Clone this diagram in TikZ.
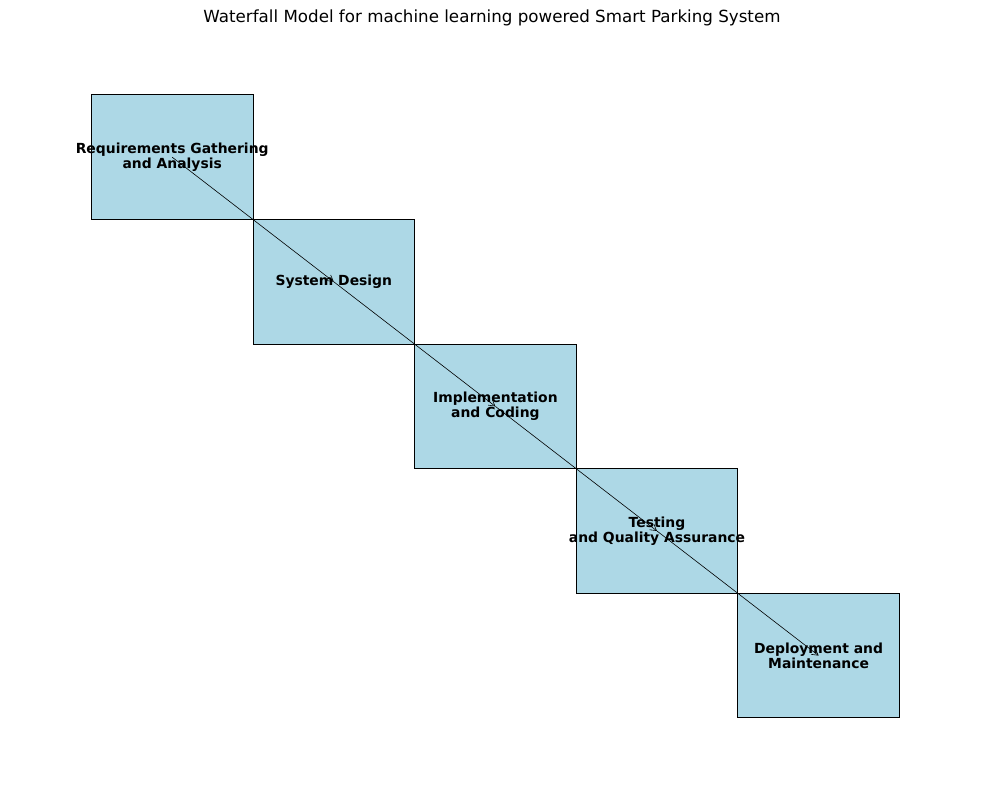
\documentclass[tikz,border=0pt]{standalone}
\usepackage{fontspec}
\setmainfont{DejaVu Sans}
\usetikzlibrary{arrows.meta,positioning}
\definecolor{stagecol}{RGB}{173,216,230}

\begin{document}
\begin{tikzpicture}[x=1pt,y=-1pt,
  stage/.style={draw=black,line width=1pt,fill=stagecol,minimum width=161.6pt,
    minimum height=124.6pt,inner xsep=-25pt,inner ysep=0pt,align=center,
    font=\fontsize{13.9}{15.5}\selectfont\bfseries},
  flow/.style={line width=0.6pt,-{Straight Barb[length=6pt,width=7pt,line width=0.6pt]}}]
  \useasboundingbox (0,0) rectangle (989,790);
  \node[font=\fontsize{16.7}{18}\selectfont] (title) at (492,18)
     {Waterfall Model for machine learning powered Smart Parking System};
  % the five stages, stepping down to the right
  \foreach \n/\x/\y/\lab in {1/172.2/157.2/Requirements Gathering\\and Analysis,
                             2/333.8/281.8/System Design,
                             3/495.4/406.4/Implementation\\and Coding,
                             4/657.0/531.0/Testing\\and Quality Assurance,
                             5/818.6/655.6/Deployment and\\Maintenance}
     {\node[stage] (s\n) at (\x,\y) {\lab};}
  % arrows between stage centres
  \foreach \a/\b in {1/2,2/3,3/4,4/5}
     {\draw[flow] (s\a.center) -- (s\b.center);}
\end{tikzpicture}
\end{document}
